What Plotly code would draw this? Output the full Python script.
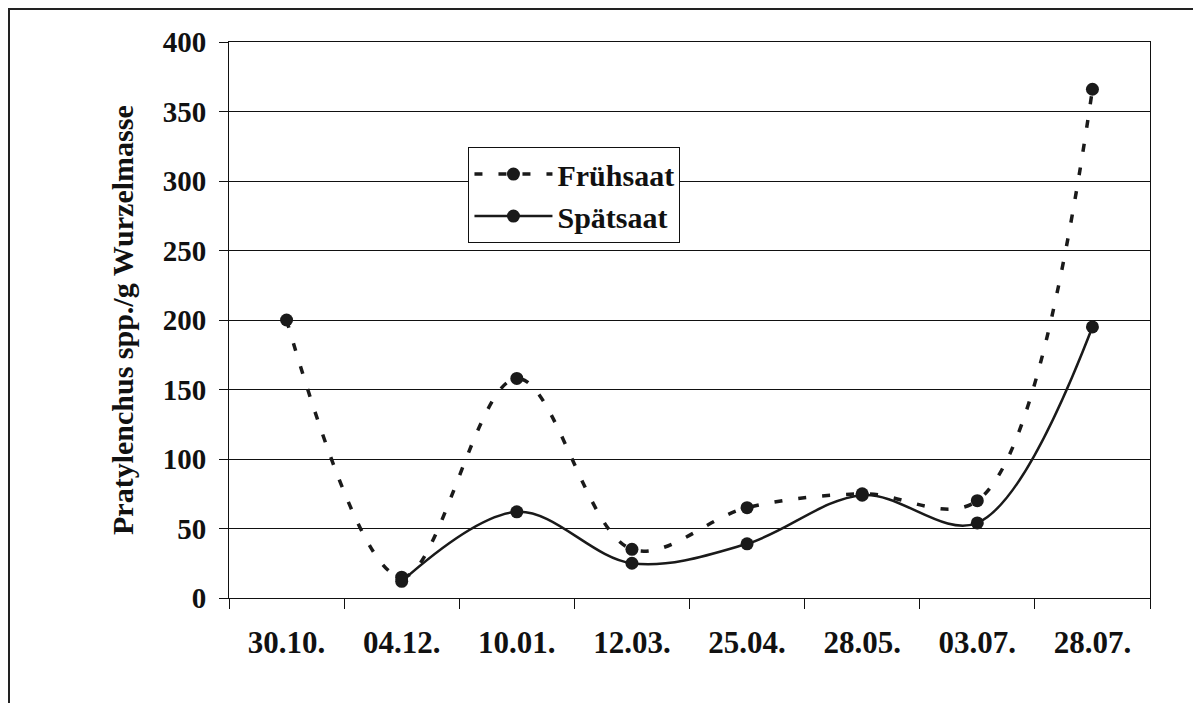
import plotly.graph_objects as go

dates = ["30.10.", "04.12.", "10.01.", "12.03.", "25.04.", "28.05.", "03.07.", "28.07."]
fruehsaat = [200, 15, 158, 35, 65, 75, 70, 366]
spaetsaat = [None, 12, 62, 25, 39, 74, 54, 195]

FONT = "Liberation Serif"
INK = "#1a1a1a"

# page body has an 8px margin, so the figure is sized to the rest of the window
fig = go.Figure()
fig.add_trace(
    go.Scatter(
        x=dates,
        y=fruehsaat,
        mode="lines+markers",
        name="Frühsaat",
        line={"color": INK, "width": 3.5, "dash": "8px,16px", "shape": "spline", "smoothing": 1},
        marker={"size": 13, "color": INK},
    )
)
fig.add_trace(
    go.Scatter(
        x=dates,
        y=spaetsaat,
        mode="lines+markers",
        name="Spätsaat",
        line={"color": INK, "width": 2.5, "shape": "spline", "smoothing": 1},
        marker={"size": 13, "color": INK},
    )
)

tick_font = {"family": FONT, "size": 29, "color": "#111", "weight": "bold"}

fig.update_layout(
    width=1193,
    height=695,
    paper_bgcolor="white",
    plot_bgcolor="white",
    margin={"l": 221, "r": 51, "t": 34, "b": 105},
    showlegend=True,
    legend={
        "x": 0.26,
        "y": 0.811,
        "xanchor": "left",
        "yanchor": "top",
        "bgcolor": "white",
        "bordercolor": "#111",
        "borderwidth": 1,
        "font": {"family": FONT, "size": 30, "color": "#111", "weight": "bold"},
        "tracegroupgap": 0,
        "itemwidth": 78,
    },
    xaxis={
        "type": "category",
        "tickson": "boundaries",
        "ticks": "outside",
        "ticklen": 10,
        "tickcolor": "#111",
        "tickwidth": 1,
        "showline": True,
        "linecolor": "#111",
        "linewidth": 1,
        "mirror": True,
        "showgrid": False,
        "tickfont": {**tick_font, "size": 31},
        "ticklabelstandoff": 17,
        "range": [-0.5, 7.5],
    },
    yaxis={
        "range": [0, 400],
        "tickvals": [0, 50, 100, 150, 200, 250, 300, 350, 400],
        "ticks": "outside",
        "ticklen": 9,
        "tickcolor": "#111",
        "showline": True,
        "linecolor": "#111",
        "linewidth": 1,
        "mirror": True,
        "showgrid": True,
        "gridcolor": "#111",
        "gridwidth": 1,
        "zeroline": False,
        "tickfont": tick_font,
        "ticklabelstandoff": 7,
    },
    annotations=[
        {
            "text": "Pratylenchus spp./g Wurzelmasse",
            "xref": "paper",
            "yref": "paper",
            "x": (122 - 229) / 921,
            "y": 0.5,
            "xanchor": "center",
            "yanchor": "middle",
            "textangle": -90,
            "showarrow": False,
            "font": {"family": FONT, "size": 30, "color": "#111", "weight": "bold"},
        }
    ],
    shapes=[
        {
            "type": "rect",
            "xref": "paper",
            "yref": "paper",
            "x0": (1 - 221) / 921,
            "x1": 1.2,
            "y0": -0.4,
            "y1": (556 + 34 - 1) / 556,
            "line": {"color": "#222", "width": 2},
        }
    ],
)

fig.write_html("out.html")
